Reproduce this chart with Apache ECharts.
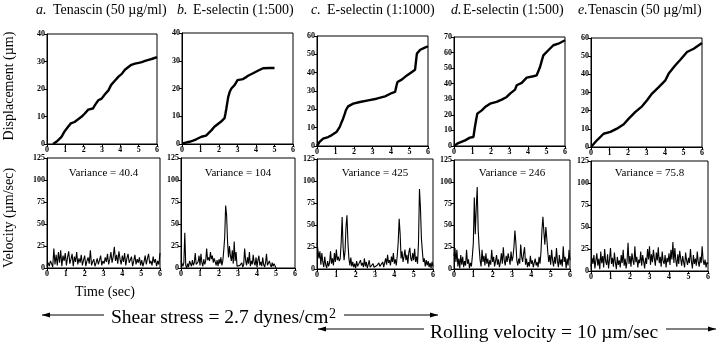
<!DOCTYPE html>
<html>
<head>
<meta charset="utf-8">
<script src="https://cdn.jsdelivr.net/npm/echarts@6/dist/echarts.min.js"></script>
<style>
  html, body { margin: 0; padding: 0; background: #fff; }
  #main { width: 720px; height: 344px; }
</style>
</head>
<body>
<div id="main"></div>
<script>
// panel headings
const panelLetters = ['a.', 'b.', 'c.', 'd.', 'e.'];
const panelNames = ['Tenascin (50 µg/ml)', 'E-selectin (1:500)', 'E-selectin (1:1000)', 'E-selectin (1:500)', 'Tenascin (50 µg/ml)'];
const variances = ['40.4', '104', '425', '246', '75.8'];
const timeTicks = [0, 6, 1];            // min, max, step (sec)
const dispMax = [40, 40, 60, 70, 60];   // displacement axis top (µm)
const velTicks = [0, 125, 25];          // min, max, step (µm/sec)

// displacement curves  [time, µm]
const dispA = [[0.33,0],[0.55,1],[0.79,2.6],[0.95,4.5],[1.15,6.3],[1.3,7.5],[1.5,8],[1.7,9],[1.88,9.9],[2.05,11],[2.25,12.5],[2.5,12.9],[2.65,14.5],[2.8,15.9],[2.98,16.5],[3.15,18],[3.35,19.5],[3.5,21.5],[3.7,23],[3.9,24.5],[4.08,25.5],[4.25,27],[4.44,28],[4.6,28.8],[4.8,29.2],[5.0,29.5],[5.17,29.8],[5.35,30.2],[5.54,30.6],[5.75,31],[6,31.6]];
const dispB = [[0.05,0.2],[0.2,0.5],[0.4,0.8],[0.6,1.2],[0.77,1.7],[1.05,2.6],[1.3,3],[1.45,4],[1.6,5],[1.75,6.2],[1.85,6.9],[2.1,8],[2.3,9.3],[2.35,11],[2.4,12.9],[2.45,15],[2.5,17],[2.58,18.8],[2.67,20],[2.85,21.3],[3.0,23],[3.3,23.4],[3.45,24],[3.57,24.6],[3.84,25.5],[4.1,26.4],[4.38,27.3],[4.74,27.4],[5.0,27.4]];
const dispC = [[0,0],[0.14,2.2],[0.33,4],[0.6,4.9],[0.78,5.8],[1.05,7.6],[1.23,10.4],[1.33,13],[1.41,14.9],[1.5,17.5],[1.56,19.5],[1.68,21.6],[1.96,23.1],[2.32,24],[2.77,24.9],[3.22,25.8],[3.68,27.1],[4.04,28.9],[4.22,29.5],[4.3,33],[4.35,34.9],[4.58,36.2],[4.86,38.5],[5.13,40.4],[5.3,41.6],[5.35,46],[5.4,50.4],[5.58,52.5],[5.8,53.5],[6,54.4]];
const dispD = [[0,0],[0.23,1.9],[0.6,3.6],[0.86,5.4],[1.05,5.8],[1.13,12.2],[1.2,17],[1.26,20.8],[1.5,22.9],[1.68,25],[1.95,27.2],[2.3,28.3],[2.58,29.8],[2.85,31.5],[3.03,33.6],[3.3,36.2],[3.39,39],[3.66,40.5],[3.93,43.9],[4.29,44.8],[4.47,45.4],[4.65,50.7],[4.75,55],[4.83,58.2],[5.1,61.5],[5.37,64.7],[5.64,65.7],[6,67.9]];
const dispE = [[0,0],[0.32,3.7],[0.68,7.3],[1.05,8.3],[1.4,10.1],[1.77,12.5],[2.04,15.6],[2.4,19.3],[2.76,22.4],[3.03,25.7],[3.3,29.4],[3.66,33],[4.02,36.7],[4.2,40.4],[4.56,45],[4.83,48],[5.19,52.3],[5.55,54.1],[6,57.2]];

// velocity traces (µm/sec), evenly sampled from 0 to velEnd
const velEnd = [6, 5, 6, 6, 6];
const velA = [3,6,2,8,5,1,22,4,15,3,18,6,20,2,14,8,17,3,12,19,5,10,16,2,13,7,18,4,11,6,15,3,9,14,2,8,12,5,20,3,7,10,2,6,11,4,9,14,3,8,5,12,7,16,4,10,18,6,13,24,8,15,5,19,10,4,14,7,17,3,11,16,6,9,13,2,8,15,4,10,6,12,3,9,2,7,14,4,11,16,5,8,3,13,6,10,2,8,4,17];
const velB = [8,10,2,6,40,3,0,5,1,8,10,2,9,3,6,17,4,2,7,14,3,16,6,2,10,4,8,22,9,12,8,18,10,14,6,11,7,3,9,2,10,5,12,3,8,20,35,71,60,30,12,25,14,8,20,5,30,8,18,2,4,0,3,2,6,1,4,22,9,3,12,5,18,2,8,4,15,6,3,12,1,9,14,3,7,2,12,4,1,6,16,3,2,8,4,1,6,2,5,3,0];
const velC = [30,28,12,20,5,18,8,2,14,5,1,9,3,7,20,6,12,4,18,8,22,10,14,9,12,30,59,25,10,20,48,61,30,12,4,13,3,8,2,6,1,9,3,5,1,10,4,7,2,12,3,8,1,5,10,2,4,0,6,2,3,1,4,2,7,3,1,5,8,2,3,12,5,16,7,10,4,14,8,18,6,11,4,15,30,57,40,12,20,8,14,22,10,16,6,19,24,12,9,18,10,23,8,14,6,30,91,70,35,20,8,12,3,10,4,9,2,7,1,8,3];
const velD = [15,24,8,22,3,12,1,16,5,14,2,9,4,22,6,11,1,7,3,15,30,82,40,70,94,45,25,10,3,22,8,15,4,18,6,12,2,10,5,22,8,14,3,9,16,5,11,2,8,18,6,25,10,4,15,8,18,12,5,20,9,14,25,44,30,10,4,12,6,28,14,8,18,25,5,12,2,8,3,15,6,10,2,7,12,4,8,2,14,6,20,45,60,42,28,48,35,20,8,16,5,22,10,3,14,6,24,9,2,16,5,11,3,26,8,14,1,12,4,22,10];
const velE = [5,15,8,18,3,12,20,6,14,2,22,9,17,4,25,11,7,19,3,13,26,8,15,5,21,10,2,16,7,12,4,18,9,24,6,14,3,11,32,8,17,5,20,12,7,28,10,16,4,13,9,22,6,18,11,3,15,8,25,13,28,7,19,10,24,14,6,21,12,27,9,16,5,22,11,8,18,4,15,10,20,7,24,13,33,9,26,12,5,19,8,23,14,6,17,10,4,21,12,7,15,9,25,11,3,18,8,14,6,22,10,5,16,9,28,12,7,13,4,10,8];

const dispSets = [dispA, dispB, dispC, dispD, dispE];
const velSets = [velA, velB, velC, velD, velE];

// plot boxes [left, top, width, height]
const topBoxes = [[47,34,110,110],[182,33,111,111],[317,36,111,110],[454,37,111,109],[591,38,111,109]];
const botBoxes = [[47,158,113,110],[181,158,114,110],[317,159,116,110],[454,160,116,109],[591,161,117,110]];
const titleX = [[36,53],[177,193],[311,327],[451,463],[578,588]];

const SERIF = '"Liberation Serif", "DejaVu Serif", serif';
const chart = echarts.init(document.getElementById('main'));

const grids = [], xAxes = [], yAxes = [], series = [], graphics = [];

function axisBase(gi, min, max, step) {
  return {
    gridIndex: gi, type: 'value', min: min, max: max, interval: step,
    axisLine: { show: true, onZero: false, lineStyle: { color: '#000', width: 1 } },
    axisTick: { show: true, length: 3, lineStyle: { color: '#000', width: 1 } },
    axisLabel: { color: '#000', fontSize: 8, fontWeight: 'bold', fontFamily: SERIF, margin: 2 },
    splitLine: { show: false }
  };
}

function addPanel(box, ymin, ymax, ystep, data, width) {
  const gi = grids.length;
  grids.push({ left: box[0], top: box[1], width: box[2], height: box[3], show: true,
               borderColor: '#000', borderWidth: 1, backgroundColor: 'transparent' });
  xAxes.push(axisBase(gi, timeTicks[0], timeTicks[1], timeTicks[2]));
  yAxes.push(axisBase(gi, ymin, ymax, ystep));
  series.push({ type: 'line', xAxisIndex: gi, yAxisIndex: gi, data: data, showSymbol: false,
                lineStyle: { color: '#000', width: width }, silent: true });
}

for (let i = 0; i < 5; i++) {
  addPanel(topBoxes[i], 0, dispMax[i], 10, dispSets[i], 2.4);
  const v = velSets[i];
  const dt = velEnd[i] / (v.length - 1);
  addPanel(botBoxes[i], velTicks[0], velTicks[1], velTicks[2], v.map((y, k) => [k * dt, y]), 1.1);

  graphics.push({ type: 'text', x: titleX[i][0], y: 10,
    style: { text: panelLetters[i], font: 'italic 14px ' + SERIF, fill: '#000', textVerticalAlign: 'middle' } });
  graphics.push({ type: 'text', x: titleX[i][1], y: 10,
    style: { text: panelNames[i], font: '14px ' + SERIF, fill: '#000', textVerticalAlign: 'middle' } });
  const b = botBoxes[i];
  graphics.push({ type: 'text', x: b[0] + b[2] / 2, y: 173,
    style: { text: 'Variance = ' + variances[i], font: '11px ' + SERIF, fill: '#000',
             textAlign: 'center', textVerticalAlign: 'middle' } });
}

// axis titles
graphics.push({ type: 'text', x: 9, y: 86, rotation: Math.PI / 2,
  style: { text: 'Displacement (µm)', font: '14px ' + SERIF, fill: '#000', textAlign: 'center', textVerticalAlign: 'middle' } });
graphics.push({ type: 'text', x: 9, y: 218, rotation: Math.PI / 2,
  style: { text: 'Velocity (µm/sec)', font: '14px ' + SERIF, fill: '#000', textAlign: 'center', textVerticalAlign: 'middle' } });
graphics.push({ type: 'text', x: 105, y: 292,
  style: { text: 'Time (sec)', font: '14px ' + SERIF, fill: '#000', textAlign: 'center', textVerticalAlign: 'middle' } });

// arrows under the figure
function arrow(x1, x2, y, headAt) {
  graphics.push({ type: 'line', shape: { x1: x1, y1: y, x2: x2, y2: y }, style: { stroke: '#000', lineWidth: 1 } });
  const d = headAt === x1 ? 1 : -1;
  graphics.push({ type: 'polygon', shape: { points: [[headAt, y], [headAt + d * 8, y - 2.5], [headAt + d * 8, y + 2.5]] },
                  style: { fill: '#000' } });
}
graphics.push({ type: 'text', x: 111, y: 318,
  style: { text: 'Shear stress = 2.7 dynes/cm', font: '19.5px ' + SERIF, fill: '#000', textVerticalAlign: 'middle' } });
graphics.push({ type: 'text', x: 329, y: 307,
  style: { text: '2', font: '14px ' + SERIF, fill: '#000', textVerticalAlign: 'top' } });
arrow(42, 104, 315, 42);
arrow(344, 438, 315, 438);
graphics.push({ type: 'text', x: 430, y: 333,
  style: { text: 'Rolling velocity = 10 µm/sec', font: '19.5px ' + SERIF, fill: '#000', textVerticalAlign: 'middle' } });
arrow(318, 424, 329, 318);
arrow(666, 716, 329, 716);

chart.setOption({
  animation: false,
  backgroundColor: '#fff',
  grid: grids,
  xAxis: xAxes,
  yAxis: yAxes,
  series: series,
  graphic: graphics
});
</script>
</body>
</html>
